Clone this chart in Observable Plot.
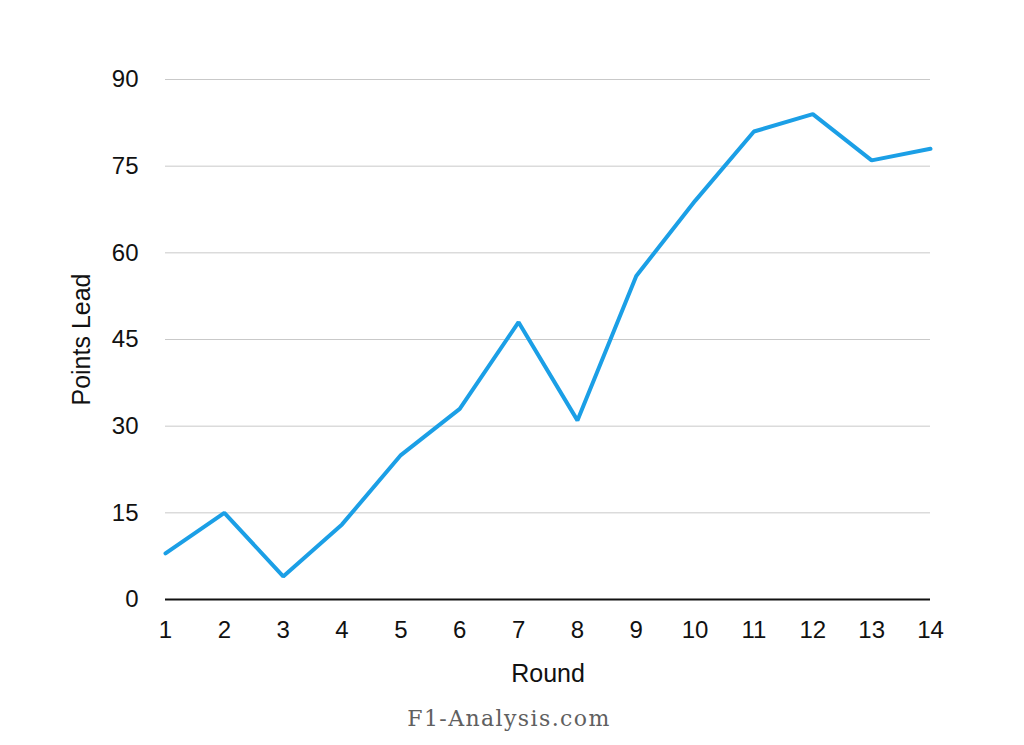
<!DOCTYPE html>
<html>
<head>
<meta charset="utf-8">
<script src="https://cdn.jsdelivr.net/npm/d3@7"></script>
<script src="https://cdn.jsdelivr.net/npm/@observablehq/plot@0.6"></script>
<style>
  html, body { margin: 0; padding: 0; background: #fff; }
  #wrap { position: relative; width: 1024px; height: 745px; }
  #caption {
    position: absolute; left: 0; top: 708px; width: 1018px;
    text-align: center; font-family: "DejaVu Serif", serif;
    font-size: 22px; line-height: 22px; color: #606060; letter-spacing: 1.4px;
  }
</style>
</head>
<body>
<div id="wrap">
  <div id="chart"></div>
  <div id="caption">F1-Analysis.com</div>
</div>
<script>
const rounds = [1, 2, 3, 4, 5, 6, 7, 8, 9, 10, 11, 12, 13, 14];
const pointsLead = [8, 15, 4, 13, 25, 33, 48, 31, 56, 69, 81, 84, 76, 78];
const yTicks = [0, 15, 30, 45, 60, 75, 90];
const gridTicks = [15, 30, 45, 60, 75, 90];
const xLabel = "Round";
const yLabel = "Points Lead";

const data = rounds.map((r, i) => ({round: r, lead: pointsLead[i]}));

const chart = Plot.plot({
  width: 1024,
  height: 695,
  marginLeft: 165,
  marginRight: 94,
  marginTop: 79,
  marginBottom: 96,
  style: {fontFamily: "'Liberation Sans', Arial, Helvetica, sans-serif", fontSize: "24px", color: "#111", background: "#fff"},
  x: {domain: [1, 14]},
  y: {domain: [0, 90]},
  marks: [
    Plot.ruleY(gridTicks, {stroke: "#c9c9c9", strokeWidth: 1}),
    Plot.axisX({ticks: rounds, tickSize: 0, tickPadding: 21, label: null, tickFormat: d => String(d), fontSize: 24}),
    Plot.axisY({ticks: yTicks, tickSize: 0, tickPadding: 27, label: null, fontSize: 24}),
    Plot.ruleY([0], {stroke: "#111", strokeWidth: 2}),
    Plot.line(data, {x: "round", y: "lead", stroke: "#1b9fe6", strokeWidth: 4, strokeLinejoin: "miter"}),
    Plot.text([xLabel], {frameAnchor: "bottom", dy: 82, text: d => d, fontSize: 25, fill: "#111"}),
    Plot.text([yLabel], {frameAnchor: "left", textAnchor: "middle", lineAnchor: "middle", dx: -84, rotate: -90, text: d => d, fontSize: 25, fill: "#111"})
  ]
});
document.getElementById("chart").appendChild(chart);
</script>
</body>
</html>
